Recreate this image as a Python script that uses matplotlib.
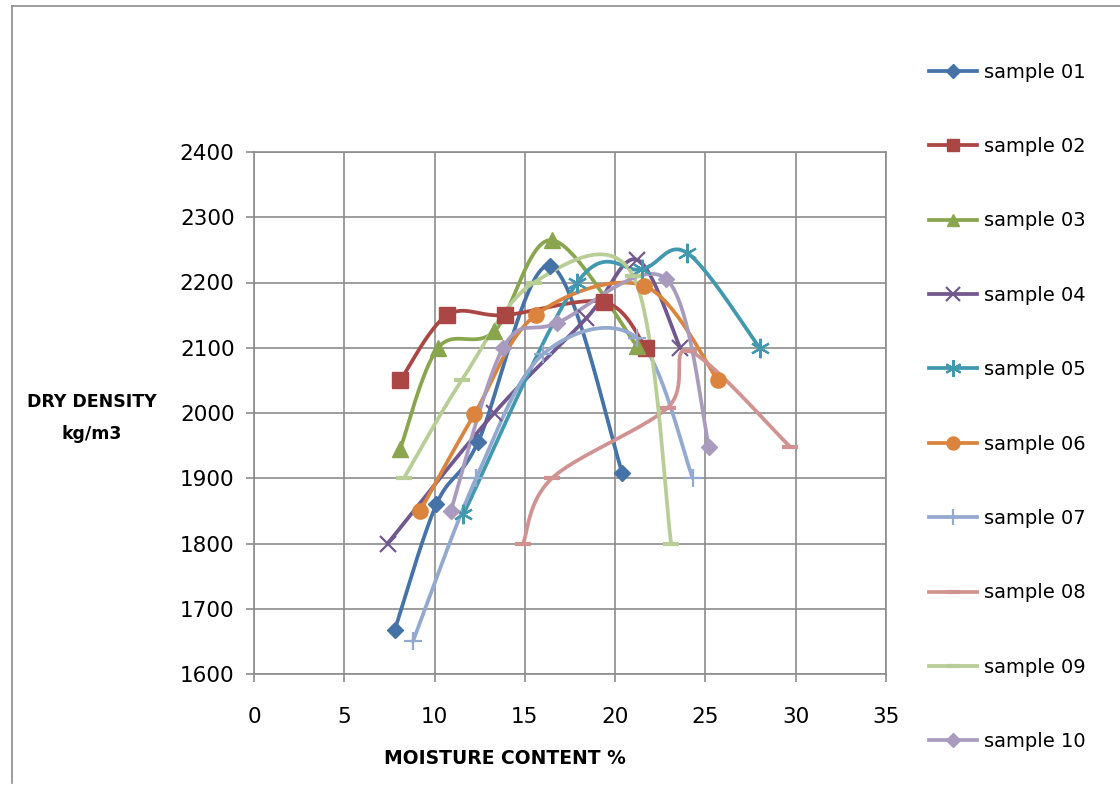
import numpy as np
import matplotlib
matplotlib.use('Agg')
import matplotlib.pyplot as plt
from matplotlib.lines import Line2D

plt.rcParams['font.family'] = ['DejaVu Sans']

# Data (moisture content %, dry density kg/m3)
s01_x = [7.8, 10.1, 12.4, 16.4, 20.4]
s01_y = [1668, 1860, 1955, 2226, 1908]
s02_x = [8.1, 10.7, 13.9, 19.4, 21.7]
s02_y = [2050, 2150, 2150, 2170, 2100]
s03_x = [8.1, 10.2, 13.3, 16.5, 21.2]
s03_y = [1945, 2100, 2125, 2265, 2103]
s04_x = [7.4, 13.3, 18.4, 21.2, 23.6]
s04_y = [1800, 2000, 2145, 2235, 2100]
s05_x = [11.6, 17.9, 21.5, 24.0, 28.0]
s05_y = [1845, 2200, 2220, 2245, 2100]
s06_x = [9.2, 12.2, 15.6, 21.6, 25.7]
s06_y = [1850, 1998, 2150, 2195, 2050]
s07_x = [8.8, 12.3, 16.0, 21.2, 24.3]
s07_y = [1650, 1900, 2090, 2115, 1900]
s08_x = [14.9, 16.5, 22.9, 24.1, 29.7]
s08_y = [1800, 1900, 2008, 2095, 1948]
s09_x = [8.3, 11.5, 15.5, 21.0, 23.1]
s09_y = [1900, 2050, 2200, 2210, 1800]
s10_x = [10.9, 13.8, 16.8, 22.8, 25.2]
s10_y = [1850, 2100, 2138, 2206, 1948]

labels = ['sample 01', 'sample 02', 'sample 03', 'sample 04', 'sample 05',
          'sample 06', 'sample 07', 'sample 08', 'sample 09', 'sample 10']
xs = [s01_x, s02_x, s03_x, s04_x, s05_x, s06_x, s07_x, s08_x, s09_x, s10_x]
ys = [s01_y, s02_y, s03_y, s04_y, s05_y, s06_y, s07_y, s08_y, s09_y, s10_y]

colors = ['#4572A7', '#AA4643', '#89A54E', '#71588F', '#4198AF',
          '#DB843D', '#93A9CF', '#D19392', '#B9CD96', '#A99BBD']
markers = ['D', 's', '^', 'x', (6, 2, 0), 'o', '+', '_', '_', 'D']
msizes = [8, 11, 11, 12, 14, 11, 13, 12, 12, 8]


def smooth(x, y, n=40):
    # Excel-like smoothed line: cubic Bezier with Catmull-Rom tangents
    p = np.column_stack([x, y]).astype(float)
    pts = np.vstack([p[0], p, p[-1]])
    out = []
    t = np.linspace(0, 1, n)[:, None]
    for i in range(1, len(pts) - 2):
        p0, p1, p2, p3 = pts[i - 1], pts[i], pts[i + 1], pts[i + 2]
        c1 = p1 + (p2 - p0) / 6
        c2 = p2 - (p3 - p1) / 6
        seg = ((1 - t) ** 3) * p1 + 3 * ((1 - t) ** 2) * t * c1 \
            + 3 * (1 - t) * t ** 2 * c2 + t ** 3 * p2
        out.append(seg)
    seg = np.vstack(out)
    return seg[:, 0], seg[:, 1]


fig = plt.figure(figsize=(11.2, 7.87), dpi=100)
ax = fig.add_axes([254 / 1120, 1 - 674 / 787, 632 / 1120, 522 / 787])

handles = []
for x, y, c, m, ms, lab in zip(xs, ys, colors, markers, msizes, labels):
    sx, sy = smooth(x, y)
    ax.plot(sx, sy, color=c, lw=2.7, solid_capstyle='round', zorder=2)
    mew = 1.6 if m in ('x', '+', (6, 2, 0)) else (3 if m == '_' else 1)
    ax.plot(x, y, ls='none', marker=m, ms=ms, color=c, mec=c, mew=mew, zorder=3)
    handles.append(Line2D([0], [0], color=c, lw=2.7, marker=m, ms=ms * 0.85,
                          mec=c, mew=mew))

ax.set_xlim(0, 35)
ax.set_ylim(1600, 2400)
ax.set_xticks(np.arange(0, 36, 5))
ax.set_yticks(np.arange(1600, 2401, 100))
ax.grid(True, color='#8c8c8c', lw=1.2)
ax.set_axisbelow(True)
for sp in ax.spines.values():
    sp.set_color('#8c8c8c')
    sp.set_linewidth(1.2)
ax.tick_params(axis='both', colors='#8c8c8c', length=6, width=1.2,
               labelcolor='black', labelsize=15.5)
ax.tick_params(axis='x', pad=18)
ax.tick_params(axis='y', pad=8)

fig.text(92 / 1120, 1 - 418 / 787, 'DRY DENSITY\nkg/m3', ha='center', va='center',
         fontsize=12.5, fontweight='bold', linespacing=2.0)
fig.text(505 / 1120, 1 - 758 / 787, 'MOISTURE CONTENT %', ha='center', va='center',
         fontsize=13.5, fontweight='bold')

fig.legend(handles, labels, loc='upper left', bbox_to_anchor=(911 / 1120, 1 - 45 / 787),
           frameon=False, fontsize=14, labelspacing=2.85, handlelength=2.5,
           handletextpad=0.35)

# outer chart border (left and top edges visible)
fig.add_artist(Line2D([12 / 1120, 12 / 1120], [1 - 6 / 787, 1 - 783 / 787],
                      color='#8c8c8c', lw=1.2))
fig.add_artist(Line2D([12 / 1120, 1], [1 - 6 / 787, 1 - 6 / 787],
                      color='#8c8c8c', lw=1.2))

fig.savefig('out.png', dpi=100)
